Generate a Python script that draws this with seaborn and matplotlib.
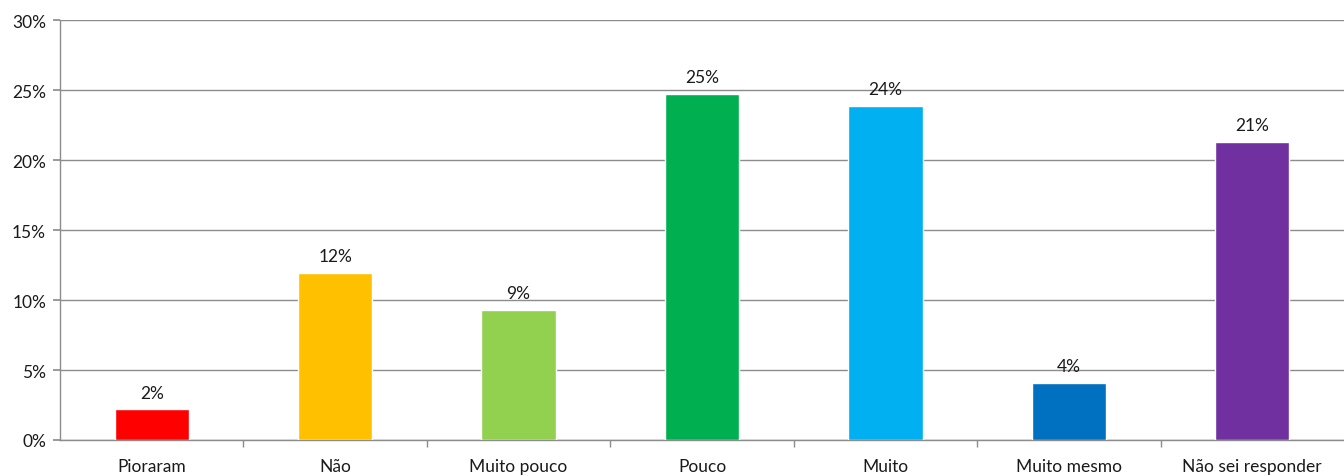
import matplotlib
matplotlib.use("Agg")
import matplotlib.pyplot as plt
from matplotlib.ticker import FixedLocator, PercentFormatter
import seaborn as sns
import pandas as pd

categories = ["Pioraram", "Não", "Muito pouco", "Pouco", "Muito", "Muito mesmo", "Não sei responder"]
values = [2.2, 11.95, 9.3, 24.75, 23.85, 4.1, 21.3]
labels = ["2%", "12%", "9%", "25%", "24%", "4%", "21%"]
colors = ["#FF0000", "#FFC000", "#92D050", "#00B050", "#00B0F0", "#0070C0", "#7030A0"]

sns.set_theme(style="white")
plt.rcParams["font.family"] = ["Lato", "DejaVu Sans"]

df = pd.DataFrame({"cat": categories, "val": values})

fig = plt.figure(figsize=(13.44, 4.77), dpi=100)
ax = fig.add_axes([60 / 1344, 1 - 441 / 477, 1 - 60 / 1344, 420 / 477])

sns.barplot(data=df, x="cat", y="val", hue="cat", palette=colors, legend=False,
            width=0.405, saturation=1, ax=ax, zorder=3)

ax.set_ylim(0, 30)
ax.set_xlim(-0.5, len(categories) - 0.5)
ax.set_yticks(range(0, 31, 5))
ax.yaxis.set_major_formatter(PercentFormatter(decimals=0))
ax.grid(axis="y", color="#8c8c8c", linewidth=1, zorder=0)
ax.set_axisbelow(True)

for s in ["top", "right"]:
    ax.spines[s].set_visible(False)
for s in ["left", "bottom"]:
    ax.spines[s].set_color("#8c8c8c")
    ax.spines[s].set_linewidth(1)

fs = 12.5
ax.tick_params(axis="y", which="major", left=True, length=5, color="#8c8c8c",
               labelsize=fs, pad=5, labelcolor="#1a1a1a")
ax.tick_params(axis="x", which="major", length=0, pad=13, labelsize=fs, labelcolor="#1a1a1a")
ax.xaxis.set_minor_locator(FixedLocator([i + 0.5 for i in range(len(categories) - 1)]))
ax.tick_params(axis="x", which="minor", bottom=True, length=5, color="#8c8c8c")

ax.set_xlabel("")
ax.set_ylabel("")

for i, (v, lab) in enumerate(zip(values, labels)):
    ax.annotate(lab, (i, v), xytext=(0, 12), textcoords="offset points",
                ha="center", va="center", fontsize=fs, color="#1a1a1a", zorder=4)

fig.savefig("out.png", dpi=100)
